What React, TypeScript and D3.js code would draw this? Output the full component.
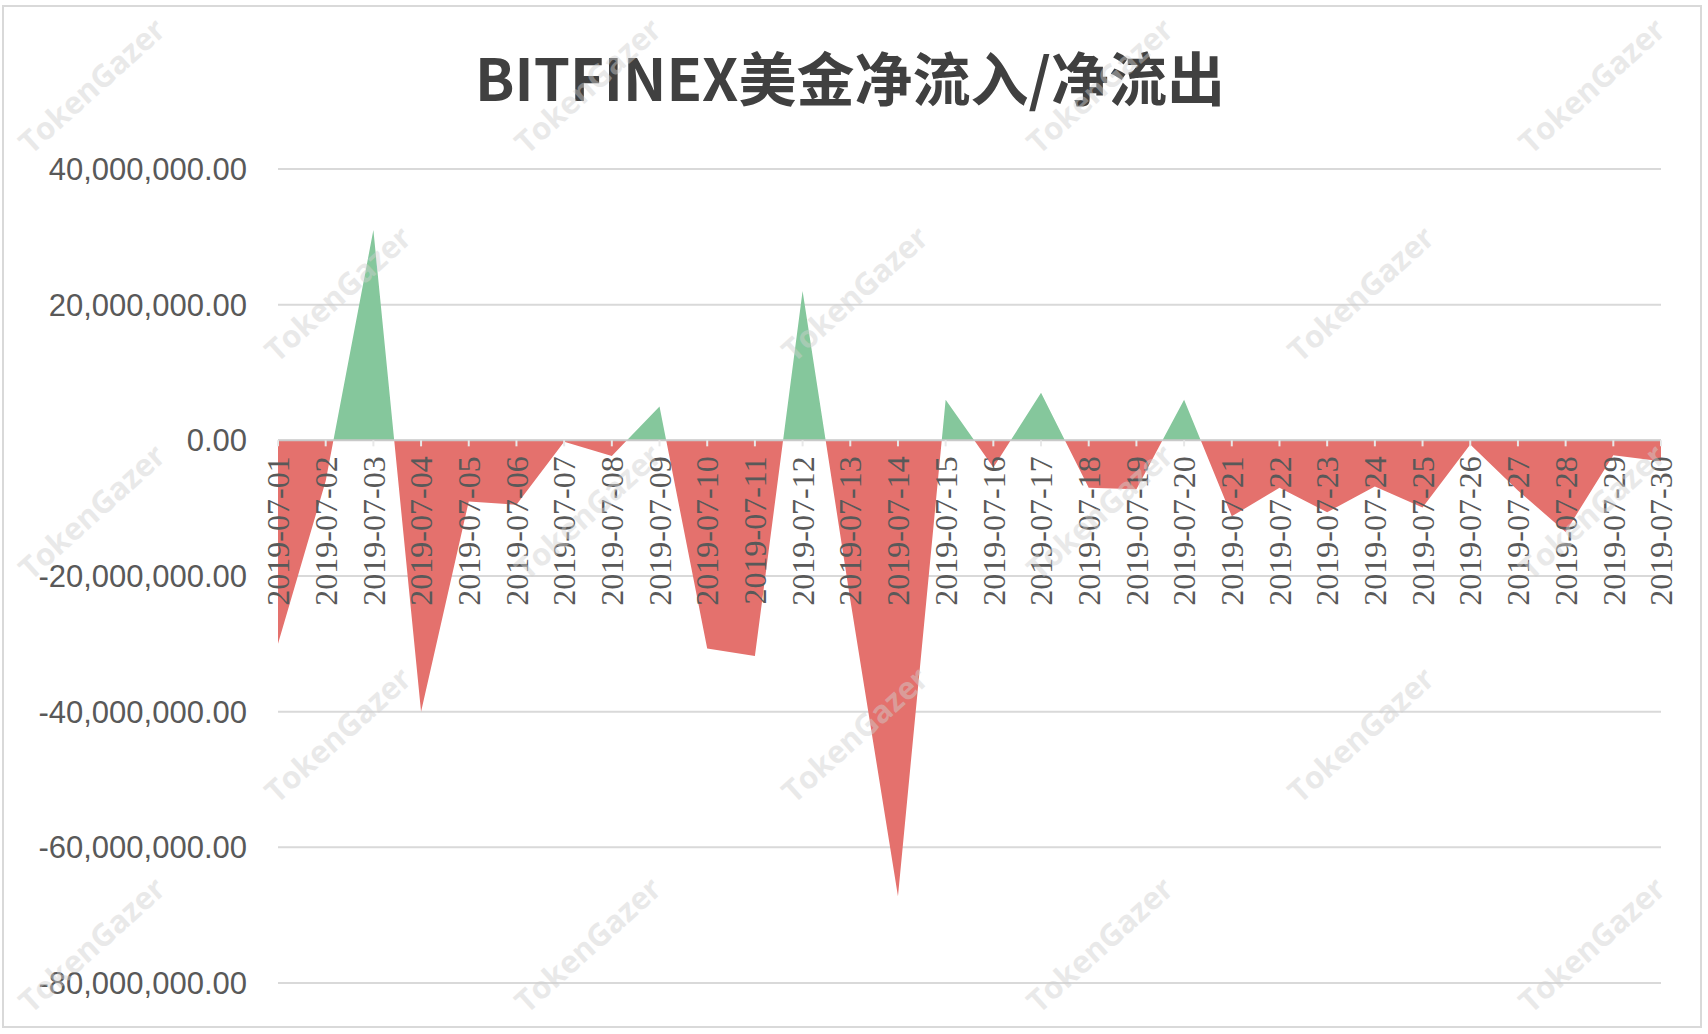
import React from 'react';
import * as d3 from 'd3';

// daily net flow, millions of USD
const dates = [
  '2019-07-01', '2019-07-02', '2019-07-03', '2019-07-04', '2019-07-05', '2019-07-06',
  '2019-07-07', '2019-07-08', '2019-07-09', '2019-07-10', '2019-07-11', '2019-07-12',
  '2019-07-13', '2019-07-14', '2019-07-15', '2019-07-16', '2019-07-17', '2019-07-18',
  '2019-07-19', '2019-07-20', '2019-07-21', '2019-07-22', '2019-07-23', '2019-07-24',
  '2019-07-25', '2019-07-26', '2019-07-27', '2019-07-28', '2019-07-29', '2019-07-30',
];
const netFlow = [
  -30, -6, 31, -40, -9, -9.5,
  -0.2, -2.3, 5, -30.7, -31.8, 22,
  -23.5, -67.2, 6, -4, 7, -7,
  -7.2, 6, -11.2, -7, -10.6, -6.8,
  -9.9, -0.6, -7.4, -13.5, -2.2, -3.1,
];
const yTicks = [40, 20, 0, -20, -40, -60, -80];
const title = 'BITFINEX美金净流入/净流出';
const watermark = 'TokenGazer';

const W = 1708;
const H = 1034;
const margin = { top: 169, right: 47, bottom: 51, left: 278 };

const fmt = (v: number) =>
  (v * 1e6).toLocaleString('en-US', { minimumFractionDigits: 2, maximumFractionDigits: 2 });

export default function App() {
  const x = d3.scalePoint<string>().domain(dates).range([margin.left, W - margin.right]);
  const y = d3.scaleLinear().domain([-80, 40]).range([H - margin.bottom, margin.top]);
  const y0 = y(0);

  const area = d3.area<number>()
    .x((_, i) => x(dates[i])!)
    .y0(y0)
    .y1(d => y(d));
  const path = area(netFlow) || '';

  // watermark grid (staggered rows)
  const wmRows = [86, 294, 512, 735, 945];
  const wmEven = [92, 588, 1100, 1592];
  const wmOdd = [338, 855, 1361];
  const marks: { x: number; y: number }[] = [];
  wmRows.forEach((ry, r) => {
    (r % 2 === 0 ? wmEven : wmOdd).forEach(cx => marks.push({ x: cx, y: ry }));
  });

  return (
    <svg width={W} height={H} style={{ position: 'absolute', left: 0, top: 0, background: '#fff' }}>
      <defs>
        <clipPath id="above">
          <rect x={0} y={0} width={W} height={y0} />
        </clipPath>
        <clipPath id="below">
          <rect x={0} y={y0} width={W} height={H - y0} />
        </clipPath>
      </defs>
      <rect x={3} y={6} width={W - 10} height={H - 13} fill="#fff" stroke="#d9d9d9" strokeWidth={2} />

      <text
        x={850}
        y={101}
        textAnchor="middle"
        fontFamily="'Noto Sans CJK SC', sans-serif"
        fontWeight="bold"
        fontSize={58}
        fill="#404040"
      >
        {title}
      </text>

      {/* gridlines + y labels */}
      {yTicks.map(t => (
        <g key={t}>
          {t !== 0 && (
            <line x1={margin.left} x2={W - margin.right} y1={y(t)} y2={y(t)} stroke="#d9d9d9" strokeWidth={2} />
          )}
          <text
            x={247}
            y={y(t)}
            dy="0.35em"
            textAnchor="end"
            fontFamily="'Liberation Sans', Arial, sans-serif"
            fontSize={31}
            fill="#595959"
          >
            {fmt(t)}
          </text>
        </g>
      ))}

      <path d={path} fill="#85c79c" clipPath="url(#above)" />
      <path d={path} fill="#e4716d" clipPath="url(#below)" />

      {/* zero axis with ticks */}
      <line x1={margin.left} x2={W - margin.right} y1={y0} y2={y0} stroke="#c9c9c9" strokeWidth={2} />
      {dates.map(d => (
        <line key={d} x1={x(d)!} x2={x(d)!} y1={y0} y2={y0 + 6} stroke="#e8e8e8" strokeWidth={2} />
      ))}

      {/* category labels */}
      {dates.map(d => (
        <text
          key={d}
          transform={`translate(${x(d)},${y0 + 16}) rotate(-90)`}
          dy="0.35em"
          textAnchor="end"
          fontFamily="'Liberation Serif', 'Times New Roman', serif"
          fontSize={32}
          fill="#595959"
        >
          {d}
        </text>
      ))}

      {/* watermark */}
      {marks.map((m, i) => (
        <text
          key={i}
          transform={`translate(${m.x},${m.y}) rotate(-42)`}
          textAnchor="middle"
          dy="0.35em"
          fontFamily="'Open Sans', 'Liberation Sans', sans-serif"
          fontWeight="bold"
          fontSize={31}
          fill="#d0d0d0"
          opacity={0.45}
        >
          {watermark}
        </text>
      ))}
    </svg>
  );
}
